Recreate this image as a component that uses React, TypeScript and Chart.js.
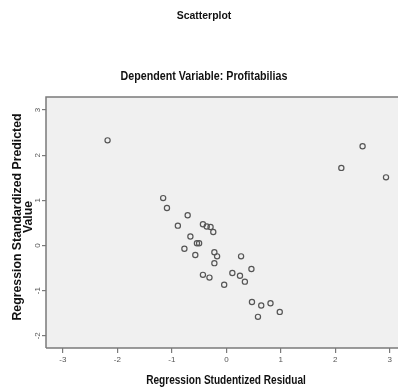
import React, { useEffect, useRef } from "react";
import { Chart, registerables } from "chart.js";

Chart.register(...registerables);

const chartTitle = "Scatterplot";
const chartSubtitle = "Dependent Variable: Profitabilias";
const xAxisTitle = "Regression Studentized Residual";
const yAxisTitleLines = ["Regression Standardized Predicted", "Value"];

const studentizedResidual = [
  -2.18, -1.16, -1.09, -0.71, -0.89, -0.43, -0.36, -0.29, -0.24, -0.66, -0.54,
  -0.5, -0.77, -0.57, -0.22, -0.17, -0.22, -0.43, -0.31, 0.27, 0.11, 0.25, 0.34,
  0.46, -0.04, 0.47, 0.64, 0.81, 0.98, 0.58, 2.5, 2.11, 2.93,
];
const standardizedPredicted = [
  2.33, 1.05, 0.83, 0.67, 0.44, 0.47, 0.42, 0.41, 0.3, 0.2, 0.05, 0.05, -0.07,
  -0.21, -0.15, -0.24, -0.39, -0.65, -0.71, -0.24, -0.61, -0.67, -0.8, -0.52,
  -0.87, -1.25, -1.33, -1.28, -1.47, -1.58, 2.2, 1.72, 1.51,
];

const xTickValues = [-3, -2, -1, 0, 1, 2, 3];
const yTickValues = [-2, -1, 0, 1, 2, 3];

const FONT = '"Liberation Sans", Arial, sans-serif';

const W = 398;
const H = 389;

function condensedText(ctx: any, text: string, x: number, y: number, font: string, sx: number) {
  ctx.save();
  ctx.translate(x, y);
  ctx.scale(sx, 1);
  ctx.font = font;
  ctx.textAlign = "center";
  ctx.textBaseline = "middle";
  ctx.fillText(text, 0, 0);
  ctx.restore();
}

const framePlugin = {
  id: "spssFrame",
  beforeDraw(chart: any) {
    const { ctx, chartArea } = chart;
    ctx.save();
    ctx.fillStyle = "#ffffff";
    ctx.fillRect(0, 0, chart.width, chart.height);
    ctx.fillStyle = "#f0f0f0";
    ctx.fillRect(chartArea.left, chartArea.top, chartArea.right - chartArea.left, chartArea.bottom - chartArea.top);
    ctx.restore();
  },
  afterDraw(chart: any) {
    const { ctx, chartArea, scales } = chart;
    ctx.save();
    ctx.strokeStyle = "#7a7a7a";
    ctx.lineWidth = 1.5;
    ctx.beginPath();
    ctx.moveTo(chartArea.left, chartArea.bottom);
    ctx.lineTo(chartArea.left, chartArea.top);
    ctx.lineTo(chartArea.right, chartArea.top);
    ctx.stroke();
    ctx.beginPath();
    ctx.moveTo(chartArea.left, chartArea.bottom);
    ctx.lineTo(chartArea.right, chartArea.bottom);
    ctx.stroke();

    ctx.fillStyle = "#111111";
    condensedText(ctx, chartTitle, 204, 16, `bold 11px ${FONT}`, 0.95);
    condensedText(ctx, chartSubtitle, 204, 77, `bold 12px ${FONT}`, 0.89);
    condensedText(ctx, xAxisTitle, 226, 381, `bold 12px ${FONT}`, 0.84);

    ctx.save();
    ctx.translate(0, 217);
    ctx.rotate(-Math.PI / 2);
    ctx.font = `bold 12.3px ${FONT}`;
    ctx.textAlign = "center";
    ctx.textBaseline = "middle";
    ctx.fillText(yAxisTitleLines[0], 0, 17.5);
    ctx.fillText(yAxisTitleLines[1], 0, 29);
    ctx.restore();

    const ys = scales.y;
    ctx.fillStyle = "#555555";
    ctx.font = `8px ${FONT}`;
    ctx.textAlign = "center";
    ctx.textBaseline = "middle";
    for (const t of ys.ticks) {
      const py = ys.getPixelForValue(t.value);
      ctx.save();
      ctx.translate(38, py);
      ctx.rotate(-Math.PI / 2);
      ctx.fillText(String(t.value), 0, 0);
      ctx.restore();
    }
    ctx.restore();
  },
};

export default function App() {
  const ref = useRef<HTMLCanvasElement | null>(null);
  useEffect(() => {
    if (!ref.current) return;
    const chart = new Chart(ref.current, {
      type: "scatter",
      data: {
        datasets: [
          {
            data: studentizedResidual.map((x, i) => ({ x, y: standardizedPredicted[i] })),
            pointStyle: "circle",
            pointRadius: 2.6,
            pointBorderWidth: 1.2,
            pointBorderColor: "#555555",
            pointBackgroundColor: "rgba(0,0,0,0)",
            showLine: false,
          },
        ],
      },
      options: {
        responsive: false,
        animation: false,
        devicePixelRatio: 1,
        layout: { autoPadding: false, padding: { top: 97, left: 0, right: 0, bottom: 0 } },
        plugins: {
          legend: { display: false },
          title: { display: false },
          tooltip: { enabled: false },
        },
        scales: {
          x: {
            type: "linear",
            min: -3.31,
            max: 3.15,
            afterFit(scale: any) {
              scale.height = 41;
              scale.paddingLeft = 0;
              scale.paddingRight = 0;
            },
            afterBuildTicks(scale: any) {
              scale.ticks = xTickValues.map((v) => ({ value: v }));
            },
            border: { display: false },
            grid: {
              drawOnChartArea: false,
              drawTicks: true,
              tickLength: 5,
              color: "#7a7a7a",
              lineWidth: 1.2,
            },
            ticks: {
              includeBounds: false,
              stepSize: 1,
              padding: 2,
              maxRotation: 0,
              color: "#555555",
              font: { family: FONT, size: 8 },
            },
          },
          y: {
            type: "linear",
            min: -2.27,
            max: 3.29,
            afterFit(scale: any) {
              scale.width = 46;
              scale.paddingTop = 0;
              scale.paddingBottom = 0;
            },
            afterBuildTicks(scale: any) {
              scale.ticks = yTickValues.map((v) => ({ value: v }));
            },
            border: { display: false },
            grid: {
              drawOnChartArea: false,
              drawTicks: true,
              tickLength: 4,
              color: "#7a7a7a",
              lineWidth: 1.2,
            },
            ticks: {
              display: false,
              includeBounds: false,
              stepSize: 1,
            },
          },
        },
      },
      plugins: [framePlugin],
    });
    return () => chart.destroy();
  }, []);
  return (
    <div style={{ position: "fixed", left: 0, top: 0, width: W, height: H }}>
      <canvas ref={ref} width={W} height={H} style={{ width: W, height: H, display: "block" }} />
    </div>
  );
}
